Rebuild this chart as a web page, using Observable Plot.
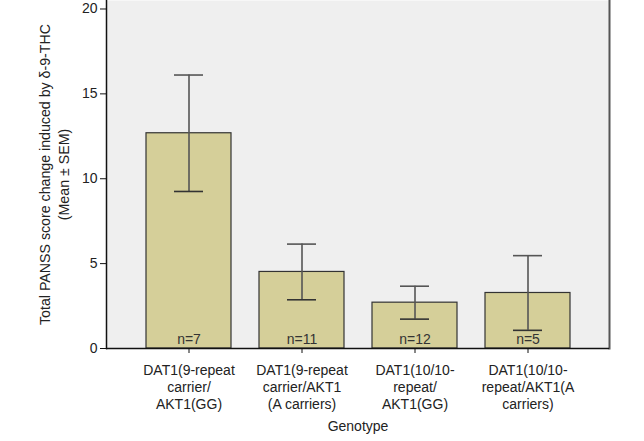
<!DOCTYPE html>
<html>
<head>
<meta charset="utf-8">
<script src="https://cdn.jsdelivr.net/npm/d3@7"></script>
<script src="https://cdn.jsdelivr.net/npm/@observablehq/plot@0.6"></script>
<style>
  body { margin: 0; background: #fff; }
  #chart svg { display: block; }
</style>
</head>
<body>
<div id="chart"></div>
<script>
const categories = ["g1", "g2", "g3", "g4"];
const tickLabels = [
  "DAT1(9-repeat\ncarrier/\nAKT1(GG)",
  "DAT1(9-repeat\ncarrier/AKT1\n(A carriers)",
  "DAT1(10/10-\nrepeat/\nAKT1(GG)",
  "DAT1(10/10-\nrepeat/AKT1(A\ncarriers)"
];
const means = [12.68, 4.51, 2.70, 3.27];
const sems = [3.43, 1.64, 0.97, 2.20];
const counts = ["n=7", "n=11", "n=12", "n=5"];
const yTicks = [0, 5, 10, 15, 20];
const yLabel = "Total PANSS score change induced by δ-9-THC\n(Mean ± SEM)";
const xLabel = "Genotype";

const data = categories.map((c, i) => ({
  cat: c, mean: means[i], lo: means[i] - sems[i], hi: means[i] + sems[i], n: counts[i]
}));
const labelOf = Object.fromEntries(categories.map((c, i) => [c, tickLabels[i]]));

const chart = Plot.plot({
  width: 644,
  height: 441,
  marginLeft: 106,
  marginRight: 35,
  marginTop: 0,
  marginBottom: 93,
  style: { fontFamily: "'Liberation Sans', Arial, sans-serif", color: "#222", background: "#fff", overflow: "visible" },
  x: { domain: categories, paddingInner: 0.25, paddingOuter: 0.35 },
  y: { domain: [0, 20.5] },
  marks: [
    Plot.frame({ fill: "#efefef", stroke: "none" }),
    Plot.frame({ anchor: "right", stroke: "#555", strokeWidth: 2 }),
    Plot.barY(data, { x: "cat", y: "mean", fill: "#d5cf99", stroke: "#333", strokeWidth: 1.2 }),
    Plot.ruleX(data, { x: "cat", y1: "lo", y2: "hi", stroke: "#555", strokeWidth: 1.6 }),
    Plot.tickY(data, { x: "cat", y: "hi", stroke: "#555", strokeWidth: 1.6, insetLeft: 28, insetRight: 28 }),
    Plot.tickY(data, { x: "cat", y: "lo", stroke: "#333", strokeWidth: 1.6, insetLeft: 28, insetRight: 28 }),
    Plot.text(data, { x: "cat", y: 0, text: "n", dy: -9, fontSize: 14, fill: "#333" }),
    Plot.ruleY([0], { stroke: "#111", strokeWidth: 1.5 }),
    Plot.frame({ anchor: "left", stroke: "#111", strokeWidth: 1.5 }),
    Plot.axisY({ ticks: yTicks, tickSize: 6, tickPadding: 3, fontSize: 14, label: null, stroke: "#111" }),
    Plot.axisX({
      tickSize: 5, tickPadding: 9, fontSize: 14, lineHeight: 1.22, label: null,
      tickFormat: d => labelOf[d], stroke: "#111"
    }),
    Plot.text([yLabel], { frameAnchor: "left", textAnchor: "middle", rotate: -90, dx: -53, fontSize: 14.2, lineHeight: 1.35, fill: "#222" }),
    Plot.text([xLabel], { frameAnchor: "bottom", dy: 82, fontSize: 14, fill: "#222" })
  ]
});
document.getElementById("chart").appendChild(chart);
</script>
</body>
</html>
